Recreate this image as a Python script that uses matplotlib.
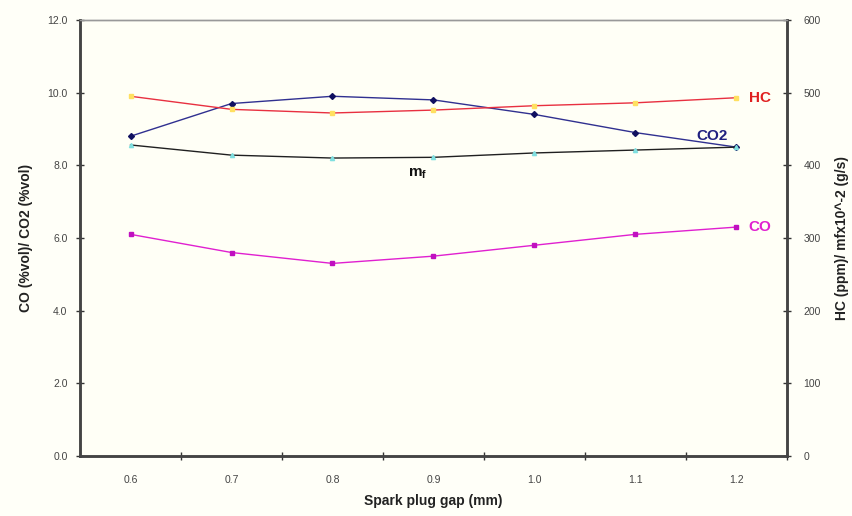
import matplotlib.pyplot as plt
import numpy as np

plt.rcParams["font.family"] = ["Liberation Sans", "DejaVu Sans"]

# spark plug gap categories
gaps = ["0.6", "0.7", "0.8", "0.9", "1.0", "1.1", "1.2"]

# left axis (%vol)
co = [6.1, 5.6, 5.3, 5.5, 5.8, 6.1, 6.3]
co2 = [8.8, 9.7, 9.9, 9.8, 9.4, 8.9, 8.5]

# right axis (ppm / mf x10^-2 g/s)
hc = [495, 477, 472, 476, 482, 486, 493]
mf = [428, 414, 410, 411, 417, 421, 425]

x = np.arange(len(gaps))

fig = plt.figure(figsize=(8.53, 5.16), dpi=100, facecolor="#fffff8")
ax = fig.add_axes([0.0938, 0.1163, 0.8288, 0.845])
ax.set_facecolor("#fffff6")
ax2 = ax.twinx()

ax.plot(x, co, color="#e020d0", lw=1, marker="s", ms=3, mfc="#c010c0", mec="#c010c0")
ax.plot(x, co2, color="#303090", lw=1, marker="D", ms=3, mfc="#101060", mec="#101060")
ax2.plot(x, hc, color="#e83040", lw=1, marker="s", ms=3, mfc="#ffe060", mec="#ffe060")
ax2.plot(x, mf, color="#202020", lw=1, marker="^", ms=3, mfc="#80e0e0", mec="#80e0e0")

ax.set_xlim(-0.5, len(gaps) - 0.5)
ax.set_ylim(0, 12)
ax2.set_ylim(0, 600)
ax.set_yticks(np.arange(0, 12.1, 2))
ax.set_yticklabels(["%.1f" % v for v in np.arange(0, 12.1, 2)])
ax2.set_yticks(np.arange(0, 601, 100))

ax.set_xticks(x)
ax.set_xticklabels(gaps)
ax.set_xticks(np.arange(-0.5, len(gaps), 1)[1:], minor=True)
ax.tick_params(axis="x", which="major", length=0, pad=14, labelsize=7.5, labelcolor="#444444")
ax.tick_params(axis="x", which="minor", direction="inout", length=6, width=1, color="#333333")
ax.tick_params(axis="y", direction="inout", length=6, width=1, color="#333333",
               labelsize=7.5, labelcolor="#444444", pad=6)
ax2.tick_params(axis="y", direction="inout", length=6, width=1, color="#333333",
                labelsize=7.5, labelcolor="#444444", pad=9)

for a in (ax, ax2):
    a.spines["top"].set_color("#999999")
    a.spines["top"].set_linewidth(1)
    for s in ("left", "right", "bottom"):
        a.spines[s].set_color("#444444")
        a.spines[s].set_linewidth(1.8)

ax.set_xlabel("Spark plug gap (mm)", fontsize=10, fontweight="bold", color="#222222", labelpad=6)
ax.set_ylabel("CO (%vol)/ CO2 (%vol)", fontsize=10, fontweight="bold", color="#222222", labelpad=10)
ax2.set_ylabel("HC (ppm)/ mfx10^-2 (g/s)", fontsize=10, fontweight="bold", color="#222222", labelpad=10)

# series labels
ax2.text(x[-1] + 0.12, hc[-1], "HC", color="#e02020", fontsize=11, fontweight="bold", va="center")
ax.text(x[-1] - 0.4, co2[-1] + 0.3, "CO2", color="#202080", fontsize=11, fontweight="bold", va="center")
ax2.text(x[3] - 0.25, mf[3] - 22, "m$_\\mathregular{f}$", color="#111111", fontsize=11,
         fontweight="bold", va="center")
ax.text(x[-1] + 0.12, co[-1], "CO", color="#e020d0", fontsize=11, fontweight="bold", va="center")

fig.savefig("out.png", dpi=100, facecolor=fig.get_facecolor())
